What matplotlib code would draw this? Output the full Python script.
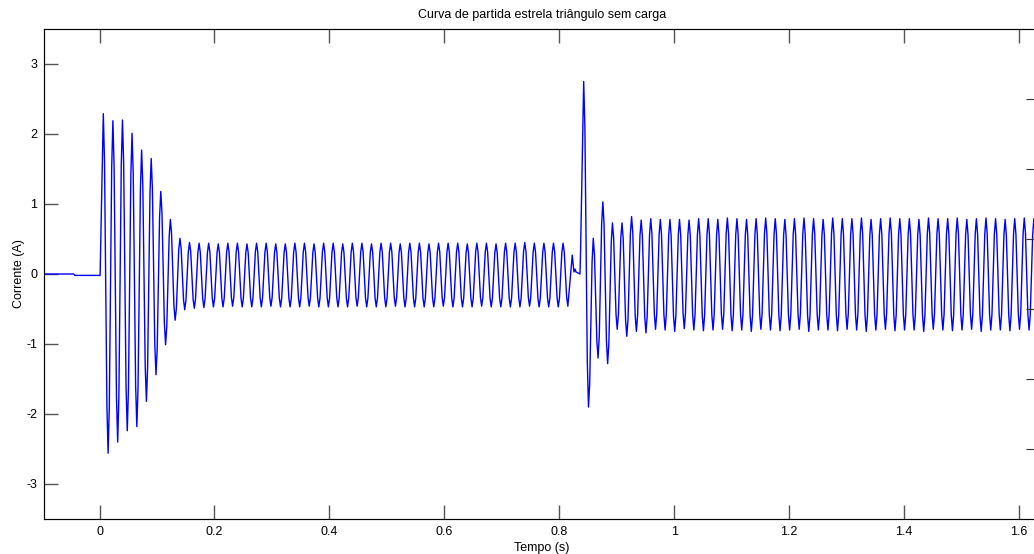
import numpy as np
import matplotlib
matplotlib.use('Agg')
import matplotlib.pyplot as plt

# --- data (peak values per cycle, 60 Hz supply) ---
freq = 60.0

# normalised shape of one half cycle (peak -> opposite peak)
half_shape = [1.0, 0.72, 0.0, -0.72, -1.0]

# before the start: motor off, current ~ 0
pre_t = [-0.0966, -0.045, -0.043, 0.001]
pre_i = [0.0, 0.0, -0.02, -0.02]

# star connection: first positive peak time, then one value per cycle
star_t0 = 0.0066
star_pos = [2.29, 2.19, 2.20, 2.01, 1.77, 1.65, 1.18, 0.78, 0.51, 0.45, 0.44,
            0.44, 0.43, 0.44, 0.44, 0.43, 0.44, 0.44, 0.43, 0.43, 0.44, 0.44, 0.43,
            0.44, 0.44, 0.43, 0.44, 0.44, 0.43, 0.44, 0.44, 0.43, 0.44, 0.44, 0.43,
            0.44, 0.44, 0.44, 0.43, 0.44, 0.44, 0.43, 0.44, 0.44, 0.45, 0.44, 0.44,
            0.44, 0.44]
star_neg = [-2.56, -2.40, -2.24, -2.18, -1.82, -1.44, -1.01, -0.66, -0.51, -0.49, -0.48,
            -0.47, -0.47, -0.46, -0.47, -0.47, -0.47, -0.46, -0.47, -0.47, -0.47, -0.46,
            -0.47, -0.47, -0.47, -0.47, -0.46, -0.47, -0.47, -0.47, -0.46, -0.47, -0.47,
            -0.47, -0.47, -0.46, -0.47, -0.47, -0.47, -0.46, -0.47, -0.47, -0.47, -0.47,
            -0.46, -0.47, -0.47, -0.47, -0.46]

# switching gap between star and delta
gap_t = [0.8226, 0.8255, 0.8275, 0.8290, 0.8360, 0.8370]
gap_i = [0.27, 0.03, 0.07, 0.03, 0.00, 0.30]

# delta connection
delta_t0 = 0.8425
delta_pos = [2.75, 0.51, 1.03, 0.73, 0.73, 0.82, 0.77, 0.79, 0.78, 0.78, 0.78, 0.77,
             0.79, 0.79, 0.78, 0.80, 0.79, 0.78, 0.79, 0.80, 0.79, 0.78, 0.79, 0.80,
             0.79, 0.78, 0.80, 0.79, 0.79, 0.80, 0.78, 0.79, 0.80, 0.79, 0.79, 0.78,
             0.80, 0.79, 0.79, 0.80, 0.78, 0.79, 0.80, 0.79, 0.78, 0.79, 0.80, 0.79,
             0.79]
delta_neg = [-1.90, -1.20, -1.28, -0.79, -0.89, -0.82, -0.84, -0.79, -0.80, -0.82, -0.78,
             -0.80, -0.81, -0.80, -0.79, -0.81, -0.80, -0.82, -0.79, -0.80, -0.81, -0.80,
             -0.79, -0.82, -0.80, -0.80, -0.81, -0.79, -0.80, -0.82, -0.80, -0.79, -0.81,
             -0.80, -0.80, -0.82, -0.79, -0.80, -0.81, -0.80, -0.79, -0.82, -0.80, -0.80,
             -0.81, -0.79, -0.80, -0.81, -0.80]


def cycles(t0, pos, neg):
    # peaks alternate +,-,+,- every half period
    n = min(len(pos), len(neg))
    k = np.arange(n)
    tp = np.empty(2 * n)
    vp = np.empty(2 * n)
    tp[0::2] = t0 + k / freq
    tp[1::2] = t0 + k / freq + 0.5 / freq
    vp[0::2] = pos[:n]
    vp[1::2] = neg[:n]
    # lay the half-cycle shape between each pair of neighbouring peaks
    m = len(half_shape) - 1
    frac = np.arange(m) / m
    shp = np.array(half_shape[:m])
    t, v = [], []
    for a in range(len(tp) - 1):
        mid = (vp[a] + vp[a + 1]) / 2
        half = (vp[a] - vp[a + 1]) / 2
        t.extend(tp[a] + frac * (tp[a + 1] - tp[a]))
        v.extend(mid + half * shp)
    t.append(tp[-1])
    v.append(vp[-1])
    return np.array(t), np.array(v)


st, sv = cycles(star_t0, star_pos, star_neg)
dt, dv = cycles(delta_t0, delta_pos, delta_neg)
t = np.concatenate([pre_t, st, gap_t, dt])
i = np.concatenate([pre_i, sv, gap_i, dv])

plt.rcParams['font.family'] = ['Liberation Sans', 'DejaVu Sans']
plt.rcParams['axes.unicode_minus'] = False

fig = plt.figure(figsize=(10.34, 5.54), dpi=100)
ax = fig.add_axes([44 / 1034, 35 / 554, 996 / 1034, 490 / 554])
ax.plot(t, i, color='#0000FF', lw=1.0)

ax.set_xlim(-0.0966, 1.6365)
ax.set_ylim(-3.5, 3.5)
ax.set_xticks([0, 0.2, 0.4, 0.6, 0.8, 1, 1.2, 1.4, 1.6])
ax.set_xticklabels(['0', '0.2', '0.4', '0.6', '0.8', '1', '1.2', '1.4', '1.6'])
ax.set_yticks([-3, -2, -1, 0, 1, 2, 3])
ax.tick_params(direction='in', length=10, width=1, color='#555555',
               labelsize=9, top=True, pad=5)
for s in ax.spines.values():
    s.set_color('#404040')

# second y axis: only its ticks show on the right
ax2 = ax.twinx()
ax2.set_ylim(-3.5, 3.5)
ax2.set_yticks([-2.5, -1.5, -0.5, 0.5, 1.5, 2.5])
ax2.set_yticklabels([])
ax2.tick_params(direction='in', length=10, color='#333333')

ax.set_title('Curva de partida estrela triângulo sem carga', fontsize=9, pad=8)
ax.set_xlabel('Tempo (s)', fontsize=9, labelpad=3)
ax.set_ylabel('Corrente (A)', fontsize=9, labelpad=1)

fig.savefig('out.png', dpi=100)
